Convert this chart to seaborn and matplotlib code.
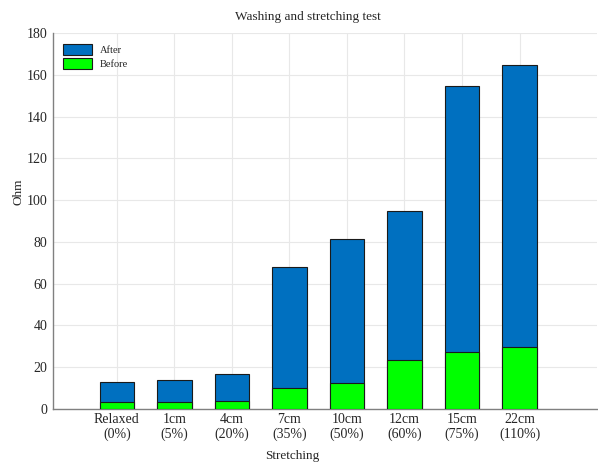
import matplotlib
matplotlib.use("Agg")
import seaborn as sns
import matplotlib.pyplot as plt

# data
stretch = ["Relaxed\n(0%)", "1cm\n(5%)", "4cm\n(20%)", "7cm\n(35%)",
           "10cm\n(50%)", "12cm\n(60%)", "15cm\n(75%)", "22cm\n(110%)"]
after = [12.7, 13.6, 16.8, 68.0, 81.4, 94.9, 154.6, 164.6]
before = [3.2, 3.3, 3.8, 9.8, 12.2, 23.3, 27.3, 29.5]

sns.set_style("white")
plt.rcParams["font.family"] = ["Liberation Serif", "DejaVu Serif"]

fig = plt.figure(figsize=(5.98, 4.67), dpi=100)
ax = fig.add_axes([0.0886, 0.125, 0.91, 0.8035])

sns.barplot(x=stretch, y=after, color="#0070C0", saturation=1, width=0.6,
            edgecolor="#1a1a1a", linewidth=0.8, label="After", ax=ax, zorder=2)
sns.barplot(x=stretch, y=before, color="#00FF00", saturation=1, width=0.6,
            edgecolor="#1a1a1a", linewidth=0.8, label="Before", ax=ax, zorder=3)

ax.set_ylim(0, 180)
ax.set_xlim(-1.11, 8.35)
ax.set_yticks(range(0, 181, 20))
ax.grid(True, color="#e8e8e8", linewidth=0.8, zorder=0)
ax.set_axisbelow(True)
for s in ["top", "right"]:
    ax.spines[s].set_visible(False)
for s in ["left", "bottom"]:
    ax.spines[s].set_color("#808080")
    ax.spines[s].set_linewidth(1.0)
ax.tick_params(axis="both", direction="in", length=4, color="#808080",
               labelsize=10, pad=4)
ax.tick_params(axis="x", pad=3)

# title, labels placed where the reference has them
ax.set_title("Washing and stretching test", fontsize=9.5, x=0.468, y=1.0, pad=10)
ax.set_xlabel("Stretching", fontsize=9.5)
ax.xaxis.set_label_coords(0.44, -0.11)
ax.set_ylabel("Ohm", fontsize=9.5)
ax.yaxis.set_label_coords(-0.053, 0.579)

ax.legend(loc="upper left", frameon=False, fontsize=7.5, handlelength=2.7,
          handleheight=1.3, borderaxespad=0.6, labelspacing=0.25)

fig.savefig("out.png", dpi=100)
